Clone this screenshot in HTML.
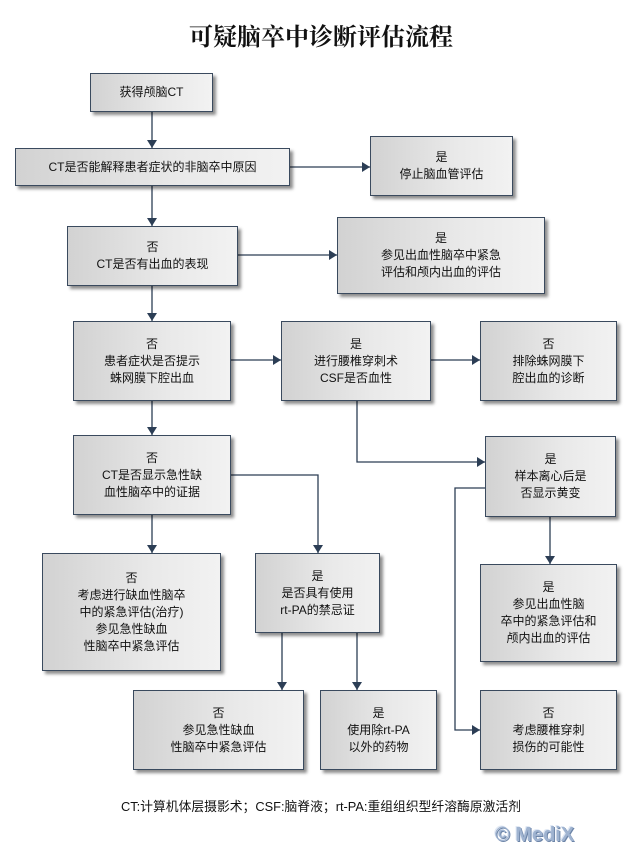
<!DOCTYPE html>
<html><head><meta charset="utf-8"><style>
body{margin:0;width:642px;height:847px;background:#fff;position:relative;font-family:"Liberation Sans","Noto Sans CJK SC",sans-serif;overflow:hidden}
.t{position:absolute;top:17px;left:0;width:642px;text-align:center;font-size:24px;font-weight:bold;font-family:"Noto Serif CJK SC","Noto Sans CJK SC",serif;color:#111}
.b{position:absolute;box-sizing:border-box;border:1px solid #3a4a5e;background:linear-gradient(to right,#d2d2d2,#e9e9e9 60%,#f2f2f2);box-shadow:3px 3px 3px rgba(0,0,0,.45);display:flex;align-items:center;justify-content:center;text-align:center;font-size:12px;line-height:17px;color:#111}
svg{position:absolute;left:0;top:0}
.f{position:absolute;top:796px;left:0;width:642px;text-align:center;font-size:12.8px;color:#111}
.m{position:absolute;left:495px;top:824px;font-size:20px;font-weight:bold;color:#9fb3d0;font-family:"Liberation Sans",sans-serif;text-shadow:1px 1px 0 #6d85a8,-1px -1px 0 #e0e8f4}
</style></head><body>
<div class="t">可疑脑卒中诊断评估流程</div>
<svg width="642" height="847"><defs><marker id="a" markerWidth="8" markerHeight="10" refX="8" refY="5" orient="auto" markerUnits="userSpaceOnUse"><path d="M0,0L8,5L0,10z" fill="#2c3e55"/></marker></defs>
<g stroke="#2c3e55" stroke-width="1.3" fill="none" marker-end="url(#a)">
<path d="M152,112V148"/><path d="M290,167H370"/><path d="M152,186V226"/><path d="M238,255H337"/><path d="M152,286V321"/><path d="M231,360H281"/><path d="M431,360H480"/><path d="M152,401V435"/><path d="M357,401V462H485"/><path d="M152,515V553"/><path d="M231,475H318V553"/><path d="M550,517V564"/><path d="M485,488H455V730H480"/><path d="M282,633V690"/><path d="M357,633V690"/>
</g></svg>
<div class="b" style="left:90px;top:73px;width:123px;height:39px">获得颅脑CT</div>
<div class="b" style="left:15px;top:148px;width:275px;height:38px">CT是否能解释患者症状的非脑卒中原因</div>
<div class="b" style="left:370px;top:136px;width:143px;height:60px">是<br>停止脑血管评估</div>
<div class="b" style="left:67px;top:226px;width:171px;height:60px">否<br>CT是否有出血的表现</div>
<div class="b" style="left:337px;top:217px;width:208px;height:77px">是<br>参见出血性脑卒中紧急<br>评估和颅内出血的评估</div>
<div class="b" style="left:73px;top:321px;width:158px;height:80px">否<br>患者症状是否提示<br>蛛网膜下腔出血</div>
<div class="b" style="left:281px;top:321px;width:150px;height:80px">是<br>进行腰椎穿刺术<br>CSF是否血性</div>
<div class="b" style="left:480px;top:321px;width:137px;height:80px">否<br>排除蛛网膜下<br>腔出血的诊断</div>
<div class="b" style="left:73px;top:435px;width:158px;height:80px">否<br>CT是否显示急性缺<br>血性脑卒中的证据</div>
<div class="b" style="left:485px;top:436px;width:131px;height:81px">是<br>样本离心后是<br>否显示黄变</div>
<div class="b" style="left:42px;top:553px;width:179px;height:118px">否<br>考虑进行缺血性脑卒<br>中的紧急评估(治疗)<br>参见急性缺血<br>性脑卒中紧急评估</div>
<div class="b" style="left:255px;top:553px;width:125px;height:80px">是<br>是否具有使用<br>rt-PA的禁忌证</div>
<div class="b" style="left:480px;top:564px;width:137px;height:98px">是<br>参见出血性脑<br>卒中的紧急评估和<br>颅内出血的评估</div>
<div class="b" style="left:133px;top:690px;width:171px;height:80px">否<br>参见急性缺血<br>性脑卒中紧急评估</div>
<div class="b" style="left:320px;top:690px;width:117px;height:80px">是<br>使用除rt-PA<br>以外的药物</div>
<div class="b" style="left:480px;top:690px;width:137px;height:80px">否<br>考虑腰椎穿刺<br>损伤的可能性</div>
<div class="f">CT:计算机体层摄影术；CSF:脑脊液；rt-PA:重组组织型纤溶酶原激活剂</div>
<div class="m">© MediX</div>
</body></html>
